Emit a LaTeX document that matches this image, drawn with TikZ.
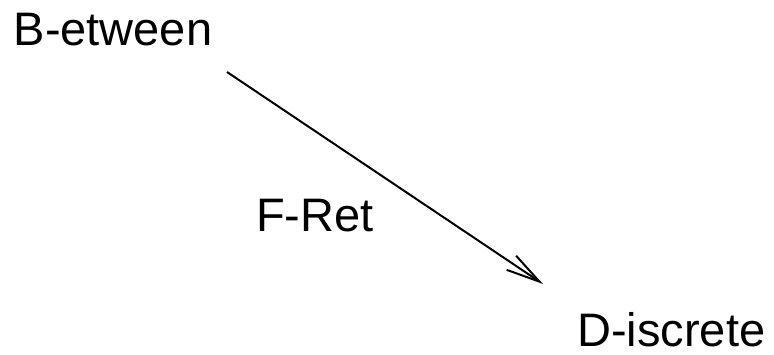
\documentclass[tikz,border=0pt]{standalone}
\usepackage{fontspec}
\setmainfont{Liberation Sans}
\usetikzlibrary{arrows.meta}
\begin{document}
\begin{tikzpicture}[x=1pt,y=1pt,
  lbl/.style={inner sep=0pt,anchor=base west,font=\fontsize{47}{50}\selectfont},
  conn/.style={line width=2pt,-{Straight Barb[length=34pt,width=17pt,line width=2pt]}}]
\useasboundingbox (0,0) rectangle (774,355);
\node[lbl] (b) at (13.5,309) {B-etween};
\node[lbl] (d) at (577,8) {D-iscrete};
\node[lbl] (f) at (256,123) {F-Ret};
\coordinate (s) at (227,283);
\coordinate (t) at (543,71);
\draw[conn] (s) -- (t);
\end{tikzpicture}
\end{document}
